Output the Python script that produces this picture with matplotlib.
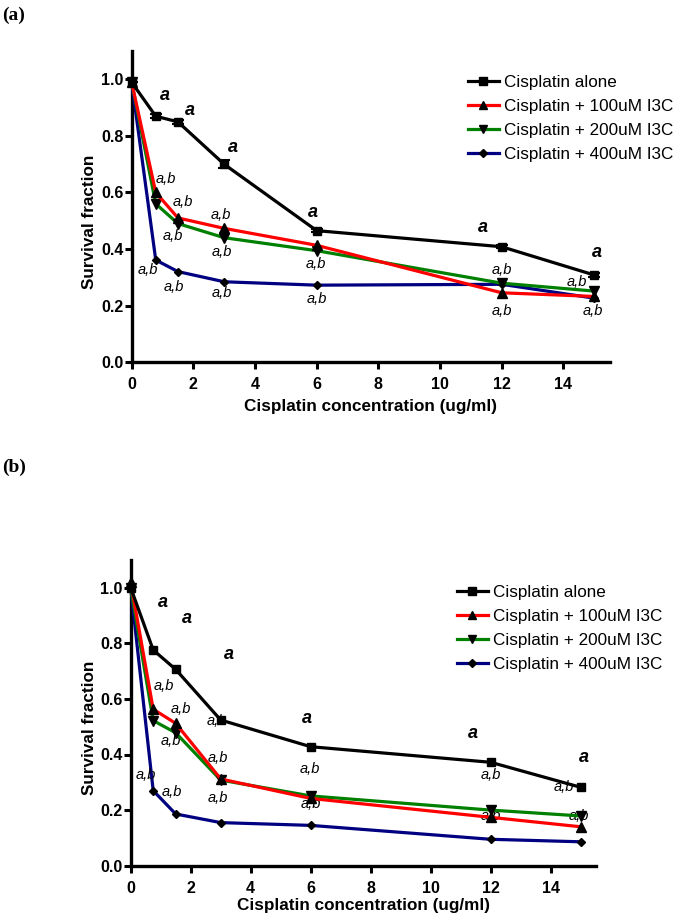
import matplotlib
matplotlib.use("Agg")
import matplotlib.pyplot as plt

plt.rcParams['font.family'] = ['Liberation Sans', 'DejaVu Sans']

# ---------------- data ----------------
conc_a = [0, 0.78, 1.5, 3, 6, 12, 15]
alone_a = [0.99, 0.87, 0.85, 0.70, 0.465, 0.408, 0.308]
i3c100_a = [0.99, 0.60, 0.51, 0.473, 0.413, 0.245, 0.232]
i3c200_a = [0.99, 0.56, 0.49, 0.44, 0.394, 0.279, 0.251]
i3c400_a = [0.99, 0.361, 0.32, 0.284, 0.272, 0.275, 0.226]
alone_err_a = [0.0, 0.008, 0.006, 0.015, 0.006, 0.006, 0.006]

conc_b = [0, 0.75, 1.5, 3, 6, 12, 15]
alone_b = [1.0, 0.776, 0.706, 0.524, 0.428, 0.372, 0.282]
i3c100_b = [1.02, 0.563, 0.512, 0.312, 0.242, 0.174, 0.14]
i3c200_b = [1.0, 0.522, 0.478, 0.308, 0.251, 0.20, 0.179]
i3c400_b = [1.0, 0.27, 0.186, 0.155, 0.145, 0.095, 0.086]

series_labels = ["Cisplatin alone", "Cisplatin + 100uM I3C",
                 "Cisplatin + 200uM I3C", "Cisplatin + 400uM I3C"]

# significance labels (x, y positions in data units)
a_x = [1.08, 1.89, 3.29, 5.88, 11.4, 15.1]
a_y = [0.945, 0.89, 0.76, 0.528, 0.477, 0.388]
ab_x = [1.10, 1.67, 2.88, 1.35, 0.52, 1.37, 2.91, 2.91, 5.97, 6.0, 12.0, 12.0, 14.45, 14.95]
ab_y = [0.648, 0.565, 0.519, 0.447, 0.326, 0.264, 0.388, 0.245, 0.348, 0.222, 0.326, 0.179, 0.283, 0.179]

xticks = [0, 2, 4, 6, 8, 10, 12, 14]
yticks = [0.0, 0.2, 0.4, 0.6, 0.8, 1.0]

colors = ["#000000", "#ff0000", "#008000", "#000080"]
markers = ["s", "^", "v", "D"]
msizes = [6, 6.5, 6.5, 4.5]

fig = plt.figure(figsize=(6.75, 9.16), dpi=100)

W, H = 675.0, 916.0


def make_axes(x0, y0px, xunit, yunit):
    width = 15.5 * xunit
    height = 1.1 * yunit
    return fig.add_axes([x0 / W, 1 - y0px / H, width / W, height / H])


def draw_panel(ax, conc, ys, err, legend_xy):
    for i, (vals, c, m, ms) in enumerate(zip(ys, colors, markers, msizes)):
        ax.plot(conc, vals, color=c, lw=2.3, marker=m, ms=ms,
                mfc="black", mec="black", clip_on=False, zorder=3 + (3 - i) * 0.1,
                label=series_labels[i])
    if err is not None:
        ax.errorbar(conc, ys[0], yerr=err, fmt="none", ecolor="black",
                    elinewidth=1.5, capsize=4, capthick=1.5, zorder=4)
    ax.set_xlim(0, 15.5)
    ax.set_ylim(0, 1.1)
    ax.set_xticks(xticks)
    ax.set_yticks(yticks)
    ax.set_yticklabels([f"{v:.1f}" for v in yticks])
    for s in ["top", "right"]:
        ax.spines[s].set_visible(False)
    for s in ["left", "bottom"]:
        ax.spines[s].set_linewidth(2.4)
    ax.tick_params(width=2.2, length=5, labelsize=11.5)
    ax.tick_params(axis="x", pad=6)
    ax.tick_params(axis="y", pad=1)
    for lab in ax.get_xticklabels() + ax.get_yticklabels():
        lab.set_fontweight("bold")
    ax.set_xlabel("Cisplatin concentration (ug/ml)", fontsize=12.3, fontweight="bold")
    ax.set_ylabel("Survival fraction", fontsize=12.3, fontweight="bold")
    ax.patch.set_alpha(0)
    for x, y in zip(a_x, a_y):
        ax.text(x, y, "a", fontsize=13, fontweight="bold", style="italic",
                ha="center", va="center", clip_on=False)
    for x, y in zip(ab_x, ab_y):
        ax.text(x, y, "a,b", fontsize=10.5, style="italic",
                ha="center", va="center", clip_on=False)
    leg = ax.legend(loc="upper left", bbox_to_anchor=legend_xy,
                    bbox_transform=fig.transFigure, frameon=False, fontsize=12.3,
                    handlelength=1.8, handletextpad=0.3, labelspacing=0.52,
                    borderpad=0, borderaxespad=0, markerscale=0.85)
    return leg


# panel (a)
ax_a = make_axes(131.7, 362.0, 30.83, 282.5)
draw_panel(ax_a, conc_a, [alone_a, i3c100_a, i3c200_a, i3c400_a], alone_err_a,
           (468 / W, 1 - 75 / H))
ax_a.xaxis.set_label_coords(0.5, -45 / (1.1 * 282.5))
ax_a.yaxis.set_label_coords(-41.7 / (15.5 * 30.83), 0.45)

# panel (b)
ax_b = make_axes(130.7, 865.7, 30.0, 278.0)
draw_panel(ax_b, conc_b, [alone_b, i3c100_b, i3c200_b, i3c400_b], None,
           (457 / W, 1 - 585 / H))
ax_b.xaxis.set_label_coords(0.5, -40 / (1.1 * 278.0))
ax_b.yaxis.set_label_coords(-40.7 / (15.5 * 30.0), 0.45)

for ax in (ax_a, ax_b):
    ax.xaxis.label.set_va("center")
    ax.yaxis.label.set_va("center")

fig.text(2 / W, 1 - 15 / H, "(a)", fontsize=14, fontweight="bold",
         family=["Liberation Serif", "DejaVu Serif"], ha="left", va="center")
fig.text(2 / W, 1 - 467 / H, "(b)", fontsize=14, fontweight="bold",
         family=["Liberation Serif", "DejaVu Serif"], ha="left", va="center")

fig.savefig("out.png", dpi=100)
